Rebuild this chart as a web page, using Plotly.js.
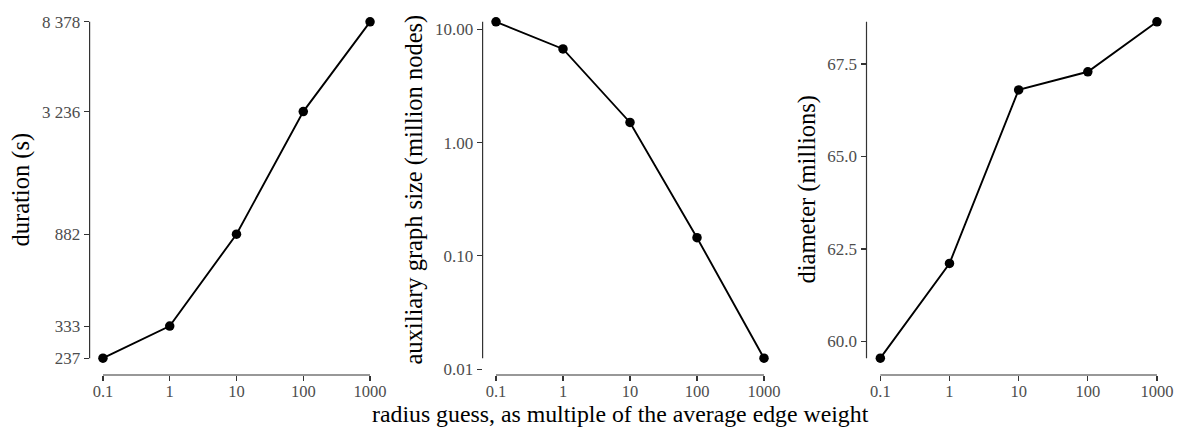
<!DOCTYPE html>
<html>
<head>
<meta charset="utf-8">
<script src="https://cdn.plot.ly/plotly-3.0.1.min.js"></script>
<style>html,body{margin:0;padding:0;background:#fff;}#chart{width:1180px;height:427px;}</style>
</head>
<body>
<div id="chart"></div>
<script>
const radius = [0.1, 1, 10, 100, 1000];
const radiusLabels = ["0.1", "1", "10", "100", "1000"];
const duration = [237, 333, 882, 3236, 8378];
const durationLabels = ["237", "333", "882", "3 236", "8 378"];
const auxSize = [11.7, 6.74, 1.51, 0.145, 0.0125];
const auxTicks = [0.01, 0.1, 1, 10];
const auxLabels = ["0.01", "0.10", "1.00", "10.00"];
const diameter = [59.55, 62.11, 66.80, 67.29, 68.64];
const diamTicks = [60.0, 62.5, 65.0, 67.5];
const diamLabels = ["60.0", "62.5", "65.0", "67.5"];
const yTitles = ["duration (s)", "auxiliary graph size (million nodes)", "diameter (millions)"];
const xTitle = "radius guess, as multiple of the average edge weight";

const FONT = "Liberation Serif, Times New Roman, serif";
const lg = Math.log10;

function expand(lo, hi) { const d = (hi - lo) * 0.05; return [lo - d, hi + d]; }

const xr = expand(lg(Math.min(...radius)), lg(Math.max(...radius)));

function trace(y, i) {
  return {
    x: radius, y: y, type: 'scatter', mode: 'lines+markers',
    xaxis: i === 1 ? 'x' : 'x' + i, yaxis: i === 1 ? 'y' : 'y' + i,
    line: {color: '#000', width: 1.9},
    marker: {color: '#000', size: 9.5},
    showlegend: false, hoverinfo: 'x+y'
  };
}

const data = [trace(duration, 1), trace(auxSize, 2), trace(diameter, 3)];

const ydom = [1 - 375 / 427, 1 - 5 / 427];
const xdoms = [[89.6 / 1180, 383.4 / 1180], [482.6 / 1180, 777.4 / 1180], [866.5 / 1180, 1170.8 / 1180]];

const TICKFONT = {family: FONT, size: 17, color: '#4d4d4d'};
const XTICKFONT = {family: FONT, size: 16.5, color: '#4d4d4d'};
const TITLEFONT = {family: FONT, size: 24.5, color: '#000'};
const XTITLEFONT = {family: FONT, size: 23.8, color: '#000'};

function xaxis(i) {
  return {
    domain: xdoms[i - 1], type: 'log', range: xr, anchor: i === 1 ? 'y' : 'y' + i,
    tickmode: 'array', tickvals: radius, ticktext: radiusLabels,
    ticks: 'outside', ticklen: 5, tickwidth: 1.1, tickcolor: '#333',
    ticklabelstandoff: -4,
    tickfont: XTICKFONT,
    showgrid: false, zeroline: false, showline: false, automargin: false
  };
}
function yaxis(i, type, range, vals, text) {
  return {
    domain: ydom, type: type, range: range, anchor: i === 1 ? 'x' : 'x' + i,
    tickmode: 'array', tickvals: vals, ticktext: text,
    ticks: 'outside', ticklen: 5, tickwidth: 1.1, tickcolor: '#333',
    tickfont: TICKFONT,
    showgrid: false, zeroline: false, showline: false, automargin: false
  };
}

const yr1 = expand(lg(Math.min(...duration)), lg(Math.max(...duration)));
const yr2 = expand(lg(Math.min(...auxSize)), lg(Math.max(...auxSize)));
const yr3 = expand(Math.min(...diameter), Math.max(...diameter));

// range-frame axis lines: span only the data extent (data coordinates)
const shapes = [];
function frame(i, ys) {
  const xs = i === 1 ? 'x' : 'x' + i;
  const yss = i === 1 ? 'y' : 'y' + i;
  shapes.push({type: 'line', xref: xs + ' domain', yref: yss, x0: 0, x1: 0,
    y0: Math.min(...ys), y1: Math.max(...ys), line: {color: '#333', width: 1.2}});
  shapes.push({type: 'line', xref: xs, yref: yss + ' domain', y0: 0, y1: 0,
    x0: Math.min(...radius), x1: Math.max(...radius), line: {color: '#333', width: 1.2}});
}
frame(1, duration);
frame(2, auxSize);
frame(3, diameter);

const yTitleX = [20.5, 413.5, 806.5];
const annotations = yTitles.map((t, k) => ({
  text: t, textangle: -90,
  xref: 'paper', yref: 'paper', x: yTitleX[k] / 1180, y: (ydom[0] + ydom[1]) / 2,
  xanchor: 'center', yanchor: 'middle', showarrow: false, font: TITLEFONT
}));
annotations.push({
  text: xTitle,
  xref: 'paper', yref: 'paper', x: 620 / 1180, y: 1 - 413.5 / 427,
  xanchor: 'center', yanchor: 'middle', showarrow: false, font: XTITLEFONT
});

const layout = {
  width: 1180, height: 427,
  margin: {l: 0, r: 0, t: 0, b: 0},
  paper_bgcolor: '#fff', plot_bgcolor: '#fff',
  font: {family: FONT},
  xaxis: xaxis(1), xaxis2: xaxis(2), xaxis3: xaxis(3),
  yaxis: yaxis(1, 'log', yr1, duration, durationLabels),
  yaxis2: yaxis(2, 'log', yr2, auxTicks, auxLabels),
  yaxis3: yaxis(3, 'linear', yr3, diamTicks, diamLabels),
  shapes: shapes,
  annotations: annotations
};

Plotly.newPlot('chart', data, layout, {displayModeBar: false, staticPlot: true});
</script>
</body>
</html>
